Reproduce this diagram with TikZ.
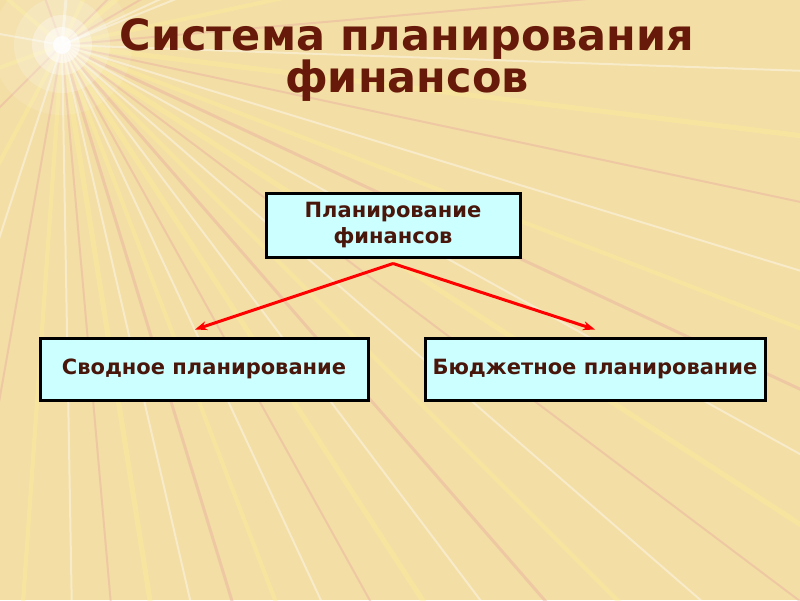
\documentclass[tikz,border=0pt]{standalone}
\usepackage{fontspec}
\setmainfont{DejaVu Sans}
\usepackage{xcolor}
\usetikzlibrary{arrows.meta,positioning}

\definecolor{paper}{RGB}{243,222,165}
\definecolor{titlebrown}{RGB}{104,26,10}
\definecolor{textbrown}{RGB}{72,22,10}
\definecolor{boxcyan}{RGB}{204,255,255}
\definecolor{raypink}{RGB}{232,168,160}
\definecolor{rayyellow}{RGB}{255,240,150}

\begin{document}
\begin{tikzpicture}[
    x=1pt, y=-1pt,
    box/.style={draw=black, line width=3pt, fill=boxcyan, minimum height=62pt, font=\fontsize{21}{26}\selectfont\bfseries, text=textbrown, align=center},
    arr/.style={-{Stealth[length=12pt,width=9pt]}, line width=3pt, red},
    ray/.style={line cap=round, opacity=0.4}
]
\useasboundingbox (0,0) rectangle (800,600);

% background with sun rays
\fill[paper] (0,0) rectangle (800,600);
\coordinate (sun) at (62,45);
\begin{scope}
\clip (0,0) rectangle (800,600);
\foreach \a/\c/\w in {-40/rayyellow/5, -30/raypink/2, -22/white/2, -12/rayyellow/4, -5/raypink/2,
    2/white/2, 7/rayyellow/5, 12/raypink/2, 17/white/2, 21/rayyellow/4, 25/raypink/3,
    29/white/2, 33/rayyellow/5, 37/raypink/2, 41/white/2, 45/rayyellow/4, 49/raypink/3,
    53/white/2, 57/rayyellow/5, 61/raypink/2, 65/white/2, 69/rayyellow/4, 73/raypink/3,
    77/white/2, 81/rayyellow/5, 85/raypink/2, 89/white/2, 94/rayyellow/4, 100/raypink/2,
    108/white/2, 118/rayyellow/4, 135/raypink/2, 160/rayyellow/4, 190/white/2, 220/rayyellow/4,
    250/raypink/2, 275/white/3, 295/rayyellow/4, 315/raypink/2, 335/white/2}
  \draw[ray, \c, line width=\w pt] (sun) -- ++(\a:1200);
\foreach \r/\o in {70/0.1, 48/0.18, 30/0.3, 18/0.5, 9/0.85}
  \fill[white, opacity=\o] (sun) circle (\r);
\end{scope}

% title
\node[font=\fontsize{43}{40}\selectfont\bfseries, text=titlebrown, align=center] (title) at (407,60) {Система планирования\\финансов};

% boxes
\node[box, minimum width=254pt, minimum height=64pt] (plan) at (393,225) {Планирование\\финансов};
\node[box, minimum width=328pt] (svod) at (204,369) {Сводное планирование};
\node[box, minimum width=340pt] (budget) at (595,369) {Бюджетное планирование};

% arrows
\coordinate[below=5pt of plan.south] (fork);
\coordinate[above=7pt of svod.north, xshift=-9pt] (svodend);
\coordinate[above=7pt of budget.north] (budgetend);
\draw[arr] (fork) -- (svodend);
\draw[arr] (fork) -- (budgetend);
\end{tikzpicture}
\end{document}
